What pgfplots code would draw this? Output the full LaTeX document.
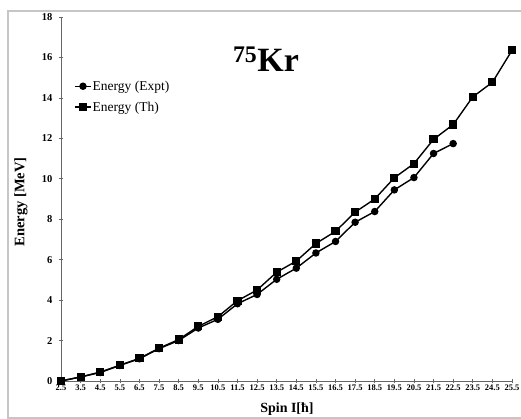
\documentclass[border=0pt]{standalone}
\usepackage{fontspec}
\setmainfont{Liberation Serif}
\usepackage{pgfplots}
\pgfplotsset{compat=1.18}

\begin{document}
\begin{tikzpicture}
% page = 521 x 419 px, 1px = 1pt, axis box lower-left at (0,0)
\useasboundingbox (-61pt,-38pt) rectangle (460pt,381pt);
\draw[gray!45, line width=1.2pt] (-53pt,-37pt) rectangle (470pt,370pt);
\begin{axis}[
    at={(0,0)}, anchor=south west,
    scale only axis,
    width=451pt, height=364pt,
    xmin=2.5, xmax=25.5,
    ymin=0, ymax=18,
    clip=false,
    axis x line*=bottom,
    axis y line*=left,
    axis line style={draw=gray!80!black, line width=0.8pt},
    tick style={draw=gray!80!black, line width=0.6pt},
    tick align=center,
    major tick length=4pt,
    xtick={2.5,3.5,...,25.5},
    xticklabels={2.5,3.5,4.5,5.5,6.5,7.5,8.5,9.5,10.5,11.5,12.5,13.5,14.5,15.5,16.5,17.5,18.5,19.5,20.5,21.5,22.5,23.5,24.5,25.5},
    ytick={0,2,...,18},
    /pgf/number format/assume math mode=true,
    xticklabel style={font=\fontsize{8.5}{10}\selectfont\bfseries, inner sep=1pt, yshift=-1pt},
    yticklabel style={font=\fontsize{10.5}{12}\selectfont\bfseries, xshift=-3pt},
    xlabel={Spin I[ħ]},
    ylabel={Energy [MeV]},
    xlabel style={font=\fontsize{14}{16}\selectfont\bfseries, at={(axis description cs:0.501,-0.077)}, anchor=center},
    ylabel style={font=\fontsize{14.5}{16}\selectfont\bfseries, at={(axis description cs:-0.089,0.492)}, anchor=center},
    legend style={draw=none, fill=none, at={(0.029,0.828)}, anchor=north west,
        font=\fontsize{13.5}{15}\selectfont, row sep=8pt, inner sep=0pt,
        nodes={inner sep=1pt}},
    legend cell align=left,
    legend image code/.code={%
        \draw[mark repeat=2,mark phase=2] plot coordinates {(0pt,0pt) (8pt,0pt) (16pt,0pt)};},
]
\addplot[black, line width=1.4pt, mark=*, mark size=3pt] coordinates {
    (2.5,0) (3.5,0.2) (4.5,0.42) (5.5,0.77) (6.5,1.1) (7.5,1.6) (8.5,2.0)
    (9.5,2.62) (10.5,3.05) (11.5,3.82) (12.5,4.28) (13.5,5.03) (14.5,5.58)
    (15.5,6.33) (16.5,6.9) (17.5,7.85) (18.5,8.38) (19.5,9.45) (20.5,10.06)
    (21.5,11.25) (22.5,11.74)
};
\addlegendentry{Energy (Expt)}
\addplot[black, line width=1.4pt, mark=square*, mark size=3.4pt] coordinates {
    (2.5,0) (3.5,0.2) (4.5,0.44) (5.5,0.78) (6.5,1.12) (7.5,1.62) (8.5,2.05)
    (9.5,2.7) (10.5,3.18) (11.5,3.97) (12.5,4.5) (13.5,5.38) (14.5,5.93)
    (15.5,6.8) (16.5,7.4) (17.5,8.35) (18.5,9.0) (19.5,10.05) (20.5,10.75)
    (21.5,11.95) (22.5,12.68) (23.5,14.05) (24.5,14.77) (25.5,16.35)
};
\addlegendentry{Energy (Th)}
\node[anchor=base, font=\fontsize{34}{38}\selectfont\bfseries, inner sep=0pt]
    at (axis description cs:0.4545,0.849) {\textsuperscript{75}Kr};
\end{axis}
\end{tikzpicture}
\end{document}
